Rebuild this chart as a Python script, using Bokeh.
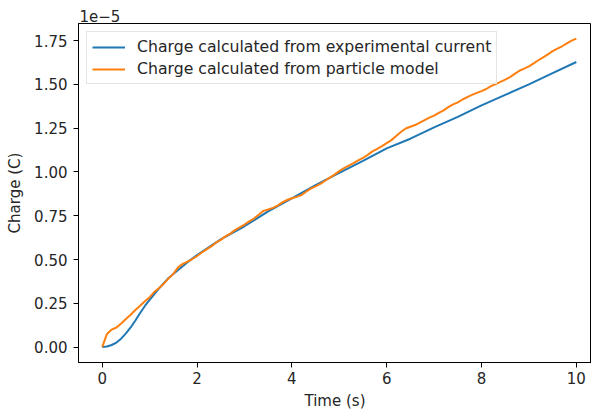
from bokeh.plotting import figure
from bokeh.models import Range1d, Legend, LegendItem, FixedTicker, Title
from bokeh.embed import file_html
from bokeh.resources import INLINE

# values in units of 1e-5 C
t_exp = [0.0, 0.1, 0.2, 0.3, 0.4, 0.5, 0.6, 0.7, 0.8, 0.9, 1.0, 1.2, 1.4, 1.6, 1.8,
         2.0, 2.5, 3.0, 3.5, 4.0, 4.5, 5.0, 5.5, 6.0, 6.5, 7.0, 7.5, 8.0, 8.5, 9.0, 9.5, 10.0]
q_exp = [0.0, 0.003, 0.012, 0.026, 0.048, 0.078, 0.112, 0.152, 0.195, 0.235, 0.27, 0.335,
         0.395, 0.44, 0.485, 0.525, 0.615, 0.69, 0.775, 0.85, 0.925, 0.995, 1.063, 1.135,
         1.19, 1.255, 1.315, 1.38, 1.44, 1.5, 1.565, 1.628]

t_model = [round(0.1 * i, 1) for i in range(101)]
q_model = [0.000, 0.075, 0.100, 0.112, 0.135, 0.160, 0.185, 0.212, 0.236, 0.262,
           0.285, 0.315, 0.338, 0.362, 0.392, 0.418, 0.455, 0.475, 0.488, 0.503,
           0.520, 0.540, 0.558, 0.575, 0.596, 0.612, 0.632, 0.648, 0.668, 0.684,
           0.700, 0.718, 0.734, 0.756, 0.778, 0.786, 0.795, 0.808, 0.826, 0.840,
           0.850, 0.858, 0.868, 0.887, 0.905, 0.918, 0.932, 0.950, 0.968, 0.985,
           1.005, 1.022, 1.036, 1.050, 1.066, 1.080, 1.098, 1.118, 1.132, 1.148,
           1.165, 1.182, 1.205, 1.228, 1.248, 1.258, 1.268, 1.282, 1.296, 1.310,
           1.322, 1.338, 1.352, 1.370, 1.386, 1.398, 1.414, 1.428, 1.440, 1.452,
           1.462, 1.474, 1.490, 1.502, 1.515, 1.528, 1.542, 1.560, 1.578, 1.590,
           1.603, 1.620, 1.638, 1.655, 1.672, 1.690, 1.704, 1.718, 1.734, 1.750,
           1.762]

x_ticks = [0, 2, 4, 6, 8, 10]
y_ticks = [0.0, 0.25, 0.5, 0.75, 1.0, 1.25, 1.5, 1.75]
y_tick_labels = {v: f"{v:.2f}" for v in y_ticks}

FONT = "DejaVu Sans"
FS = "15px"
TXT = "#262626"

p = figure(width=591, height=413, output_backend="svg", toolbar_location=None,
           x_range=Range1d(-0.5, 10.32), y_range=Range1d(-0.088, 1.848),
           min_border_left=78, min_border_top=23, min_border_bottom=51, min_border_right=0)
p.grid.visible = False
p.outline_line_color = "black"
p.outline_line_width = 1
p.background_fill_color = "white"
p.border_fill_color = "white"

for ax in (p.xaxis[0], p.yaxis[0]):
    ax.major_tick_out = 5
    ax.major_tick_in = 0
    ax.minor_tick_line_color = None
    ax.axis_line_color = "black"
    ax.major_tick_line_color = "black"
    ax.major_label_text_font = FONT
    ax.major_label_text_font_size = FS
    ax.major_label_text_color = TXT
    ax.axis_label_text_font = FONT
    ax.axis_label_text_font_size = FS
    ax.axis_label_text_font_style = "normal"
    ax.axis_label_text_color = TXT

p.xaxis.ticker = FixedTicker(ticks=x_ticks)
p.yaxis.ticker = FixedTicker(ticks=y_ticks)
p.yaxis.major_label_overrides = y_tick_labels
p.xaxis.axis_label = "Time (s)"
p.yaxis.axis_label = "Charge (C)"
p.xaxis.major_label_standoff = 4
p.yaxis.major_label_standoff = 6
p.xaxis.axis_label_standoff = 5
p.yaxis.axis_label_standoff = 7

r1 = p.line(t_exp, q_exp, line_color="#1f77b4", line_width=2)
r2 = p.line(t_model, q_model, line_color="#ff7f0e", line_width=2)

legend = Legend(items=[
    LegendItem(label="Charge calculated from experimental current", renderers=[r1]),
    LegendItem(label="Charge calculated from particle model", renderers=[r2]),
], location="top_left")
legend.margin = 8
legend.padding = 5
legend.spacing = 3
legend.glyph_width = 33
legend.glyph_height = 18
legend.label_height = 18
legend.label_standoff = 12
legend.label_text_font = FONT
legend.label_text_font_size = "15.7px"
legend.label_text_color = TXT
legend.border_line_color = "#cccccc"
legend.border_line_width = 1
legend.background_fill_alpha = 0.8
p.add_layout(legend, "center")

offset = Title(text="1e\u22125", align="left", text_font=FONT, text_font_size=FS,
               text_color=TXT, text_font_style="normal", standoff=4, offset=1)
p.add_layout(offset, "above")

open("out.html", "w").write(file_html(p, INLINE))
